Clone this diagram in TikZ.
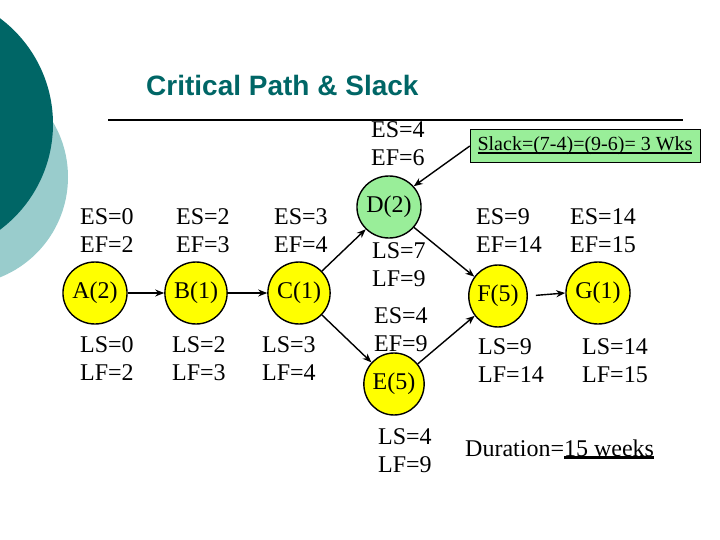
\documentclass[tikz,border=0pt]{standalone}
\usepackage{fontspec}
\setmainfont{Liberation Serif}
\newfontfamily\headfont{Liberation Sans}
\usetikzlibrary{arrows.meta,shapes.geometric}
\definecolor{deepteal}{HTML}{006666}
\definecolor{paleteal}{HTML}{99CCCC}
\definecolor{actyellow}{HTML}{FFFF00}
\definecolor{slackgreen}{HTML}{99EE99}
\newsavebox\ulbox
\newcommand\ulbar[2]{\sbox\ulbox{#2}\rlap{\raisebox{-3pt}{\rule{\wd\ulbox}{#1}}}\usebox\ulbox}

\begin{document}
\begin{tikzpicture}[x=1pt,y=-1pt,
  actnode/.style={ellipse,draw,line width=1.4pt,fill=actyellow,minimum width=57pt,minimum height=62pt,inner sep=0pt,font=\fontsize{24}{28}\selectfont},
  times/.style={anchor=west,align=left,inner sep=0pt,font=\fontsize{24}{28}\selectfont},
  arr/.style={-{Stealth[length=9pt,width=7pt]},line width=1.4pt}]
\useasboundingbox (0,0) rectangle (720,540);
\begin{scope}
\clip (0,0) rectangle (720,540);
\fill[paleteal] (-40,177) circle (108);
\fill[deepteal] (-79,124) circle (132);
\end{scope}
\node[anchor=base west,inner sep=0pt,text=deepteal,font=\headfont\bfseries\fontsize{28}{32}\selectfont] (title) at (146,96) {Critical Path \& Slack};
\draw[line width=2pt] (108,120) -- (683,120);

\node[actnode] (A) at (95,293) {A(2)};
\node[actnode] (B) at (196,293) {B(1)};
\node[actnode] (C) at (299,293) {C(1)};
\node[actnode,fill=slackgreen] (D) at (389,207) {D(2)};
\node[actnode] (E) at (394,384) {E(5)};
\node[actnode] (F) at (498,296) {F(5)};
\node[actnode] (G) at (598,293) {G(1)};

\node[times] (Aes) at (80,231) {ES=0\\EF=2};
\node[times] (Als) at (80,359) {LS=0\\LF=2};
\node[times] (Bes) at (176,231) {ES=2\\EF=3};
\node[times] (Bls) at (172,359) {LS=2\\LF=3};
\node[times] (Ces) at (274,231) {ES=3\\EF=4};
\node[times] (Cls) at (262,359) {LS=3\\LF=4};
\node[times] (Des) at (371,144) {ES=4\\EF=6};
\node[times] (Dls) at (372,265) {LS=7\\LF=9};
\node[times] (Ees) at (374,330) {ES=4\\EF=9};
\node[times] (Els) at (378,451) {LS=4\\LF=9};
\node[times] (Fes) at (476,231) {ES=9\\EF=14};
\node[times] (Fls) at (478,361) {LS=9\\LF=14};
\node[times] (Ges) at (570,231) {ES=14\\EF=15};
\node[times] (Gls) at (582,361) {LS=14\\LF=15};

\node[draw,fill=slackgreen,minimum width=230pt,minimum height=33pt,inner sep=0pt,font=\fontsize{20}{24}\selectfont] (slack) at (585,146) {\ulbar{1.5pt}{Slack=(7-4)=(9-6)= 3 Wks}};
\node[anchor=base west,inner sep=0pt,font=\fontsize{24}{28}\selectfont] (dur) at (465,456) {Duration=\ulbar{3pt}{15 weeks}};

\draw[arr] (A) -- (B);
\draw[arr] (B) -- (C);
\draw[arr] (C) -- (D);
\draw[arr] (C) -- (E);
\draw[arr] (D) -- (F);
\draw[arr] (E) -- (F);
\draw[arr,shorten <=8pt] (F.east) -- (G.west);
\draw[arr] (slack.west) -- (D.40);
\end{tikzpicture}
\end{document}
